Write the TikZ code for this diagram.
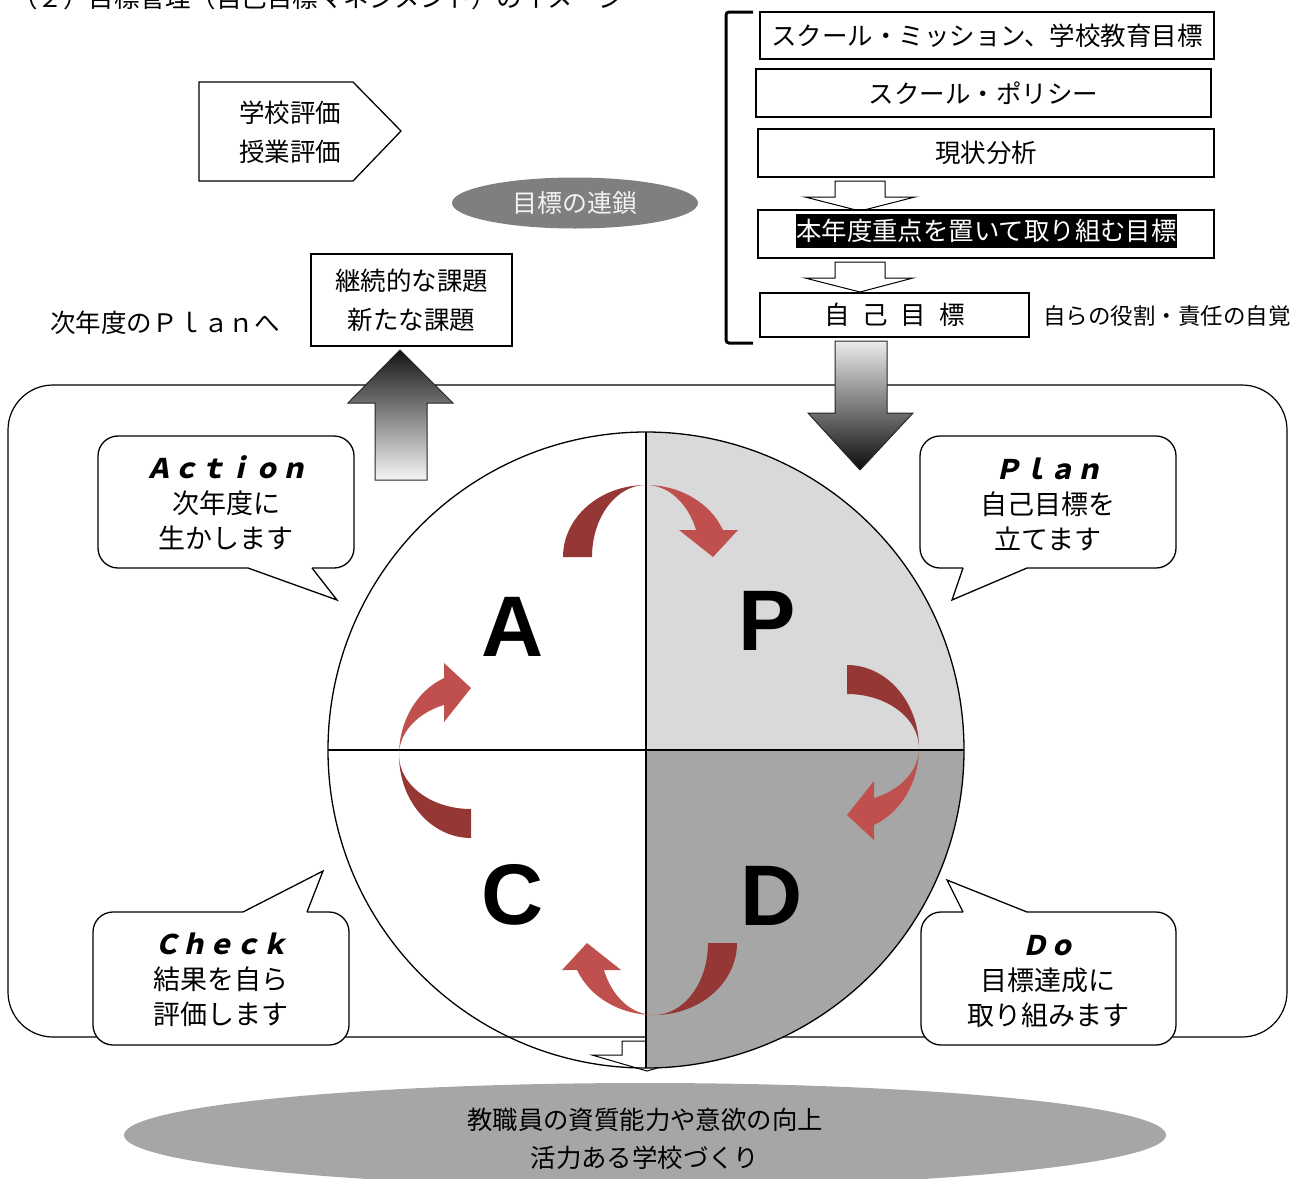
\documentclass[tikz,border=0pt]{standalone}
\usepackage{fontspec}
\setmainfont{Noto Sans CJK JP}
\newfontfamily\actfont[FakeSlant=0.22,BoldFeatures={FakeSlant=0.22}]{Noto Sans CJK JP}
\newfontfamily\bigfont{Liberation Sans}
\usetikzlibrary{shapes.geometric}
\definecolor{arrDark}{HTML}{953735}
\definecolor{arrLight}{HTML}{C0504D}
\definecolor{qLight}{HTML}{D9D9D9}
\definecolor{qDark}{HTML}{A6A6A6}
\definecolor{chainGray}{HTML}{7F7F7F}
\definecolor{baseGray}{HTML}{A6A6A6}
\tikzset{
 frame/.style={draw=black, line width=1.2pt},
 txt/.style={font=\fontsize{25.5}{39}\selectfont, inner sep=0pt, align=center},
 boxnode/.style={draw=black, line width=1.3pt, fill=white, inner sep=0pt, font=\fontsize{25.5}{39}\selectfont, align=center},
 hollow/.style={draw=black, line width=1pt, fill=white},
 call/.style={draw=black, line width=1.3pt, fill=white},
 calltxt/.style={font=\fontsize{27}{35}\selectfont, inner sep=0pt, align=center},
 bigletter/.style={font=\bigfont\bfseries\fontsize{86}{86}\selectfont, inner sep=0pt},
}
\newcommand{\redcurve}[2]{%
 \begin{scope}[shift={#1}, rotate=#2]
  \fill[arrDark] (-83,0) arc[start angle=180,end angle=90,x radius=83,y radius=72]
     arc[start angle=90,end angle=180,x radius=54,y radius=72] -- cycle;
  \fill[arrLight] (0,72) arc[start angle=90,end angle=22,x radius=83,y radius=72]
     -- (92,27) -- (67,0) -- (33,27) -- (50.07,27)
     arc[start angle=22,end angle=90,x radius=54,y radius=72] -- cycle;
 \end{scope}}
\newcommand{\actlabel}[1]{{\actfont\bfseries #1}}
\begin{document}
\begin{tikzpicture}[x=1pt,y=1pt]
\path[use as bounding box] (0,0) rectangle (1303,-1178);

% title (cut at top, as in the reference)
\node[anchor=base west, font=\fontsize{25.5}{30}\selectfont, inner sep=0pt] (title) at (12,-7) {（２）目標管理（自己目標マネジメント）のイメージ};

% big frame
\draw[frame, rounded corners=45pt] (8,-385) rectangle (1287,-1037);

% circle quadrants
\coordinate (O) at (646,-750);
\fill[qLight] (O) -- (646,-432) arc[start angle=90,end angle=0,radius=318] -- cycle;
% small hollow arrow under circle
\draw[hollow] (622,-1041) -- (672,-1041) -- (672,-1055) -- (702,-1055) -- (647,-1071) -- (592,-1055) -- (622,-1055) -- cycle;
\fill[qDark] (O) -- (964,-750) arc[start angle=0,end angle=-90,radius=318] -- cycle;
\draw[line width=1.3pt] (O) circle[radius=318];
\draw[line width=1.3pt] (646,-432) -- (646,-1068);
\draw[line width=1.3pt] (328,-750) -- (964,-750);

% curved arrows
\redcurve{(646,-557)}{0}
\redcurve{(847,-748)}{-90}
\redcurve{(654,-943)}{180}
\redcurve{(471,-755)}{90}

% letters
\node[bigletter] (lA) at (513,-627) {A};
\node[bigletter] (lP) at (767,-621) {P};
\node[bigletter] (lC) at (513,-895) {C};
\node[bigletter] (lD) at (772,-896) {D};

% callouts
\draw[call, rounded corners=20pt] (98,-436) rectangle (354,-568);
\fill[white] (249,-565.5) -- (311,-565.5) -- (312,-568) -- (337,-600) -- (248,-568) -- cycle;
\draw[line width=1.3pt, line join=miter] (248,-568) -- (337,-600) -- (312,-568);
\node[calltxt] (tAct) at (226,-503) {\actlabel{Ａｃｔｉｏｎ}\\次年度に\\生かします};

\draw[call, rounded corners=20pt] (920,-436) rectangle (1176,-568);
\fill[white] (964,-565.5) -- (1026,-565.5) -- (1027,-568) -- (952,-600) -- (963,-568) -- cycle;
\draw[line width=1.3pt, line join=miter] (963,-568) -- (952,-600) -- (1027,-568);
\node[calltxt] (tPlan) at (1048,-504) {\actlabel{Ｐｌａｎ}\\自己目標を\\立てます};

\draw[call, rounded corners=20pt] (93,-912) rectangle (349,-1045);
\fill[white] (244,-914.5) -- (306,-914.5) -- (307,-912) -- (323,-871) -- (243,-912) -- cycle;
\draw[line width=1.3pt, line join=miter] (243,-912) -- (323,-871) -- (307,-912);
\node[calltxt] (tCheck) at (221,-980) {\actlabel{Ｃｈｅｃｋ}\\結果を自ら\\評価します};

\draw[call, rounded corners=20pt] (921,-912) rectangle (1176,-1045);
\fill[white] (964,-914.5) -- (1026,-914.5) -- (1027,-912) -- (947,-880) -- (963,-912) -- cycle;
\draw[line width=1.3pt, line join=miter] (963,-912) -- (947,-880) -- (1027,-912);
\node[calltxt] (tDo) at (1048,-981) {\actlabel{Ｄｏ}\\目標達成に\\取り組みます};

% gradient arrows
\shade[draw=black!85, line width=1pt, top color=black!8, middle color=black!78, bottom color=black!95]
  (835,-341) -- (887,-341) -- (887,-413) -- (913,-413) -- (860,-470) -- (808,-413) -- (835,-413) -- cycle;
\shade[draw=black!85, line width=1pt, top color=black!92, middle color=black!65, bottom color=black!4]
  (400,-350) -- (453,-403) -- (427,-403) -- (427,-480) -- (375,-480) -- (375,-403) -- (348,-403) -- cycle;

% top-right stack
\draw[line width=3pt, rounded corners=3pt] (753,-12) -- (726,-12) -- (726,-343) -- (753,-343);
\node[boxnode, minimum width=454pt, minimum height=47pt] (b1) at (987,-35.5) {スクール・ミッション、学校教育目標};
\node[boxnode, minimum width=455pt, minimum height=48pt] (b2) at (983.5,-93) {スクール・ポリシー};
\node[boxnode, minimum width=456pt, minimum height=48pt] (b3) at (986,-153) {現状分析};
\draw[hollow] (835,-181) -- (885,-181) -- (885,-197) -- (915,-197) -- (860,-211) -- (805,-197) -- (835,-197) -- cycle;
\node[boxnode, minimum width=456pt, minimum height=48pt] (b4) at (986,-234) {};
\node[fill=black, text=white, inner xsep=0pt, minimum height=34pt, font=\fontsize{25.4}{30}\selectfont] (b4t) at (986.5,-231) {本年度重点を置いて取り組む目標};
\draw[hollow] (835,-262) -- (885,-262) -- (885,-278) -- (913,-278) -- (860,-292) -- (805,-278) -- (835,-278) -- cycle;
\node[boxnode, minimum width=269pt, minimum height=44pt] (b5) at (894.5,-315) {自\hspace{13pt}己\hspace{13pt}目\hspace{13pt}標};
\node[anchor=west, inner sep=0pt, font=\fontsize{22.5}{30}\selectfont] (role) at (1043,-316) {自らの役割・責任の自覚};

% left top items
\draw[line width=1.3pt, fill=white] (199,-82) -- (353,-82) -- (401,-131) -- (353,-181) -- (199,-181) -- cycle;
\node[txt] (eval) at (290,-132.5) {学校評価\\授業評価};
\node[ellipse, fill=chainGray, inner sep=0pt, minimum width=246pt, minimum height=51pt, text=white!95!black, font=\fontsize{25}{30}\selectfont] (chain) at (575,-203) {\raisebox{-3pt}{目標の連鎖}};
\node[boxnode, minimum width=201pt, minimum height=92pt] (issue) at (411.5,-300) {継続的な課題\\新たな課題};
\node[anchor=west, inner sep=0pt, font=\fontsize{25.5}{30}\selectfont] (next) at (50,-323) {次年度のＰｌａｎへ};

% bottom ellipse
\node[ellipse, fill=baseGray, inner sep=0pt, minimum width=1042pt, minimum height=104pt] (base) at (645,-1135) {};
\node[txt, font=\fontsize{25.4}{38}\selectfont] (baseT) at (645,-1139) {教職員の資質能力や意欲の向上\\活力ある学校づくり};
\end{tikzpicture}
\end{document}
